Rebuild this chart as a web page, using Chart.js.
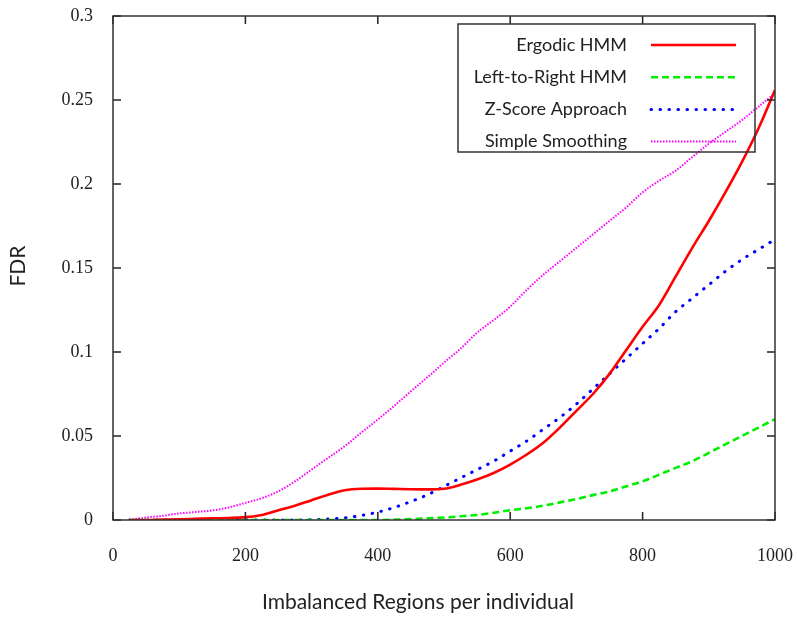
<!DOCTYPE html>
<html>
<head>
<meta charset="utf-8">
<script src="https://cdn.jsdelivr.net/npm/chart.js@4.4.1/dist/chart.umd.min.js"></script>
<style>
  html, body { margin: 0; padding: 0; background: #fff; }
  #wrap { width: 797px; height: 617px; }
</style>
</head>
<body>
<div id="wrap"><canvas id="fdrChart" width="797" height="617"></canvas></div>
<script>
// imbalanced regions per individual (x)
const regions = [25, 50, 75, 100, 125, 150, 175, 200, 225, 250, 275, 300, 325, 350, 375, 400,
  425, 450, 475, 500, 525, 550, 575, 600, 625, 650, 675, 700, 725, 750, 775, 800,
  825, 850, 875, 900, 925, 950, 975, 1000];

const ergodicHMM = [0, 0, 0.0002, 0.0004, 0.0007, 0.001, 0.0012, 0.0017, 0.003, 0.0058, 0.0085, 0.0118,
  0.015, 0.0177, 0.0186, 0.0187, 0.0185, 0.0183, 0.0182, 0.0186, 0.021, 0.0241, 0.028, 0.033,
  0.039, 0.046, 0.055, 0.065, 0.075, 0.087, 0.101, 0.115, 0.128, 0.145, 0.162, 0.178,
  0.195, 0.213, 0.233, 0.256];

const leftRightHMM = [0, 0, 0, 0, 0, 0, 0, 0, 0, 0, 0, 0, 0, 0, 0, 0,
  0.0002, 0.0005, 0.001, 0.0015, 0.0022, 0.003, 0.0043, 0.0058, 0.007, 0.0085, 0.0105, 0.0125,
  0.0148, 0.017, 0.02, 0.023, 0.027, 0.031, 0.035, 0.04, 0.045, 0.05, 0.055, 0.06];

const zScore = [0, 0, 0, 0, 0, 0, 0, 0, 0, 0, 0, 0.0002, 0.0006, 0.0013, 0.0027, 0.0047,
  0.0075, 0.011, 0.015, 0.02, 0.025, 0.03, 0.035, 0.041, 0.047, 0.054, 0.061, 0.069,
  0.078, 0.087, 0.096, 0.105, 0.114, 0.124, 0.132, 0.14, 0.148, 0.155, 0.161, 0.167];

const simpleSmoothing = [0, 0.0015, 0.0025, 0.0039, 0.0048, 0.0057, 0.0075, 0.0102, 0.013, 0.0171, 0.023, 0.03,
  0.037, 0.0439, 0.052, 0.0598, 0.068, 0.0766, 0.085, 0.0937, 0.102, 0.1115, 0.119, 0.127,
  0.137, 0.146, 0.154, 0.162, 0.17, 0.178, 0.186, 0.195, 0.202, 0.208, 0.216, 0.224,
  0.231, 0.238, 0.246, 0.254];

const xTickLabels = ['0', '200', '400', '600', '800', '1000'];
const yTickLabels = ['0', '0.05', '0.1', '0.15', '0.2', '0.25', '0.3'];

function pts(arr) {
  return regions.map((r, i) => ({ x: r, y: arr[i] }));
}

const chartData = {
  datasets: [
    {
      label: 'Ergodic HMM',
      data: pts(ergodicHMM),
      borderColor: '#ff0000',
      borderWidth: 2.6,
      borderDash: [],
      borderCapStyle: 'butt'
    },
    {
      label: 'Left-to-Right HMM',
      data: pts(leftRightHMM),
      borderColor: '#00ee00',
      borderWidth: 2.6,
      borderDash: [7, 4],
      borderCapStyle: 'butt'
    },
    {
      label: 'Z-Score Approach',
      data: pts(zScore),
      borderColor: '#0000ff',
      borderWidth: 3,
      borderDash: [0.5, 8.5],
      borderCapStyle: 'round'
    },
    {
      label: 'Simple Smoothing',
      data: pts(simpleSmoothing),
      borderColor: '#ff00ff',
      borderWidth: 2,
      borderDash: [1.5, 1.5],
      borderCapStyle: 'butt'
    }
  ]
};

// frame, inward ticks on all four sides, axis titles and the gnuplot-like key
const decorations = {
  id: 'decorations',
  afterDatasetsDraw(chart) {
    const ctx = chart.ctx;
    const a = chart.chartArea;
    const xs = chart.scales.x, ys = chart.scales.y;
    ctx.save();
    ctx.strokeStyle = '#222';
    ctx.lineWidth = 1.5;
    ctx.beginPath();
    xs.ticks.forEach(t => {
      const px = xs.getPixelForValue(t.value);
      ctx.moveTo(px, a.bottom); ctx.lineTo(px, a.bottom - 8);
      ctx.moveTo(px, a.top); ctx.lineTo(px, a.top + 8);
    });
    ys.ticks.forEach(t => {
      const py = ys.getPixelForValue(t.value);
      ctx.moveTo(a.left, py); ctx.lineTo(a.left + 8, py);
      ctx.moveTo(a.right, py); ctx.lineTo(a.right - 8, py);
    });
    ctx.stroke();
    ctx.strokeStyle = '#333';
    ctx.strokeRect(a.left, a.top, a.right - a.left, a.bottom - a.top);

    // key
    const bx = a.left + 345, by = a.top + 8, bw = 297, bh = 128;
    ctx.strokeRect(bx, by, bw, bh);
    ctx.font = '18px Lato';
    ctx.fillStyle = '#222';
    ctx.textAlign = 'right';
    ctx.textBaseline = 'middle';
    chart.data.datasets.forEach((ds, i) => {
      const cy = by + 21 + i * 32.2;
      ctx.fillText(ds.label, bx + 169, cy);
      ctx.save();
      ctx.strokeStyle = ds.borderColor;
      ctx.lineWidth = ds.borderWidth;
      ctx.lineCap = ds.borderCapStyle;
      ctx.setLineDash(ds.borderDash);
      ctx.beginPath();
      ctx.moveTo(bx + 193, cy);
      ctx.lineTo(bx + 278, cy);
      ctx.stroke();
      ctx.restore();
    });

    // axis titles
    ctx.font = '21px Lato';
    ctx.textAlign = 'center';
    ctx.fillText('Imbalanced Regions per individual', 418, 602);
    ctx.translate(18, 266);
    ctx.rotate(-Math.PI / 2);
    ctx.fillText('FDR', 0, 0);
    ctx.restore();
  }
};

const options = {
  responsive: false,
  animation: false,
  layout: { padding: { left: 0, top: 16, right: 22, bottom: 0 } },
  elements: {
    point: { radius: 0 },
    line: { cubicInterpolationMode: 'monotone', fill: false }
  },
  scales: {
    x: {
      type: 'linear',
      min: 0,
      max: 1000,
      grid: { display: false, drawTicks: false },
      border: { display: false },
      ticks: {
        stepSize: 200,
        padding: 25,
        color: '#222',
        font: { family: 'Liberation Serif', size: 18 },
        maxRotation: 0,
        callback: (v, i) => xTickLabels[i]
      },
      afterFit: s => { s.height = 97; s.paddingLeft = 0; s.paddingRight = 0; }
    },
    y: {
      type: 'linear',
      min: 0,
      max: 0.3,
      grid: { display: false, drawTicks: false },
      border: { display: false },
      ticks: {
        stepSize: 0.05,
        padding: 20,
        color: '#222',
        font: { family: 'Liberation Serif', size: 18 },
        callback: (v, i) => yTickLabels[i]
      },
      afterFit: s => { s.width = 113; s.paddingTop = 0; s.paddingBottom = 0; }
    }
  },
  plugins: {
    legend: { display: false },
    tooltip: { enabled: false }
  }
};

new Chart(document.getElementById('fdrChart'), {
  type: 'line',
  data: chartData,
  options: options,
  plugins: [decorations]
});
</script>
</body>
</html>
